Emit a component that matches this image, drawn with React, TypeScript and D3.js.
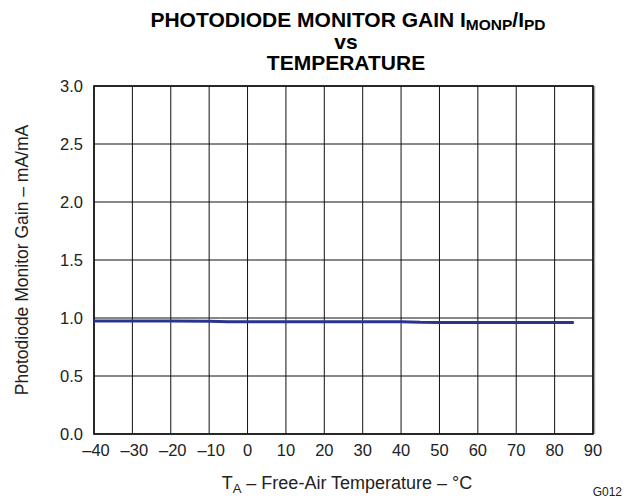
import * as d3 from 'd3';

const WIDTH = 631;
const HEIGHT = 499;
const MARGIN = { top: 86, right: 38, bottom: 65, left: 94 };
const FONT = '"Liberation Sans", Arial, sans-serif';

const temps = [-40, -30, -20, -10, -5, 0, 10, 20, 30, 40, 45, 50, 60, 70, 80, 85];
const gain = [0.975, 0.975, 0.975, 0.973, 0.968, 0.968, 0.968, 0.968, 0.968, 0.968, 0.963, 0.962, 0.962, 0.962, 0.962, 0.962];
const xTicks = [-40, -30, -20, -10, 0, 10, 20, 30, 40, 50, 60, 70, 80, 90];
const yTicks = [0, 0.5, 1.0, 1.5, 2.0, 2.5, 3.0];

export default function App() {
  const boundsWidth = WIDTH - MARGIN.left - MARGIN.right;
  const boundsHeight = HEIGHT - MARGIN.top - MARGIN.bottom;

  const xScale = d3.scaleLinear().domain([-40, 90]).range([0, boundsWidth]);
  const yScale = d3.scaleLinear().domain([0, 3]).range([boundsHeight, 0]);

  const line = d3
    .line<number>()
    .x((_, i) => xScale(temps[i]))
    .y((d) => yScale(d));

  const vGrid = xTicks.map((t, i) => (
    <g key={i}>
      <line x1={xScale(t)} x2={xScale(t)} y1={0} y2={boundsHeight} stroke="#111" strokeWidth={1} />
      <text
        x={xScale(t) + (t < 0 ? 2 : 0)}
        y={boundsHeight + 22}
        textAnchor="middle"
        fontSize={16.5}
        fill="#222"
      >
        {t < 0 ? `\u2013${Math.abs(t)}` : t}
      </text>
    </g>
  ));

  const hGrid = yTicks.map((v, i) => (
    <g key={i}>
      <line x1={0} x2={boundsWidth} y1={yScale(v)} y2={yScale(v)} stroke="#111" strokeWidth={1} />
      <text x={-11} y={yScale(v) + 6} textAnchor="end" fontSize={16.5} fill="#222">
        {v.toFixed(1)}
      </text>
    </g>
  ));

  return (
    <svg
      width={WIDTH}
      height={HEIGHT}
      style={{ position: 'absolute', left: 0, top: 0, background: '#fff' }}
      fontFamily={FONT}
    >
      <g fontWeight="bold" fontSize={21} textAnchor="middle" fill="#000">
        <text x={348} y={27}>
          PHOTODIODE MONITOR GAIN I
          <tspan fontSize={15.5} dy={3}>MONP</tspan>
          <tspan dy={-3}>/I</tspan>
          <tspan fontSize={15.5} dy={3}>PD</tspan>
        </text>
        <text x={346} y={49}>vs</text>
        <text x={346} y={70}>TEMPERATURE</text>
      </g>

      <g transform={`translate(${MARGIN.left},${MARGIN.top})`}>
        {vGrid}
        {hGrid}
        <line x1={boundsWidth + 1.5} x2={boundsWidth + 1.5} y1={0} y2={boundsHeight} stroke="#aaa" strokeWidth={1.5} />
        <rect
          x={0}
          y={0}
          width={boundsWidth}
          height={boundsHeight}
          fill="none"
          stroke="#111"
          strokeWidth={1.6}
        />
        <path d={line(gain) ?? ''} fill="none" stroke="#2B3391" strokeWidth={3} />
      </g>

      <text
        transform={`translate(28,${MARGIN.top + boundsHeight / 2}) rotate(-90)`}
        textAnchor="middle"
        fontSize={17.5}
        fill="#222"
      >
        Photodiode Monitor Gain – mA/mA
      </text>

      <text x={347} y={489} textAnchor="middle" fontSize={18} fill="#222">
        T<tspan fontSize={13} dy={4}>A</tspan>
        <tspan dy={-4}> – Free-Air Temperature – °C</tspan>
      </text>

      <text x={622} y={496} textAnchor="end" fontSize={12} fill="#222">
        G012
      </text>
    </svg>
  );
}
